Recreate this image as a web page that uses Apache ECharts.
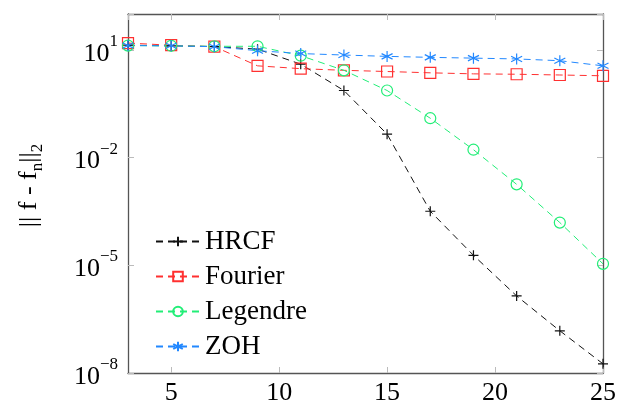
<!DOCTYPE html>
<html>
<head>
<meta charset="utf-8">
<script src="https://cdn.jsdelivr.net/npm/echarts@6/dist/echarts.min.js"></script>
<style>
  html, body { margin: 0; padding: 0; background: #fff; }
  #chart { width: 637px; height: 406px; }
</style>
</head>
<body>
<div id="chart"></div>
<script>
// number of basis functions n
const nValues = [3, 5, 7, 9, 11, 13, 15, 17, 19, 21, 23, 25];

// ||f - f_n||_2
const hrcf     = [13.5, 13, 12.3, 10.5, 4.0, 0.74, 0.045, 3.2e-4, 1.9e-5, 1.4e-6, 1.5e-7, 1.8e-8];
const fourier  = [15.5, 13.5, 12.3, 3.6, 3.0, 2.7, 2.5, 2.3, 2.15, 2.1, 2.0, 1.9];
const legendre = [13.2, 13, 12.6, 12.6, 6.9, 2.7, 0.74, 0.125, 0.0166, 1.8e-3, 1.55e-4, 1.1e-5];
const zoh      = [13.2, 13, 12.3, 9.5, 7.9, 7.2, 6.6, 6.2, 5.9, 5.6, 5.0, 3.6];

const FONT = 'Liberation Serif';
const plus = 'path://M0,5H10M5,0V10';
const star = 'path://M5,0V10M0.67,2.5L9.33,7.5M0.67,7.5L9.33,2.5';

function pairs(ys) {
  return nValues.map((x, i) => [x, ys[i]]);
}

function makeSeries(name, ys, color, symbol, size) {
  return {
    name: name,
    type: 'line',
    data: pairs(ys),
    symbol: symbol,
    symbolSize: size,
    color: color,
    lineStyle: { color: color, width: 1, type: [7, 5] },
    itemStyle: { color: 'rgba(0,0,0,0)', borderColor: color, borderWidth: 1.2 },
    emphasis: { disabled: true },
    z: 3
  };
}

const supLabel = function (v) {
  const e = Math.round(Math.log10(v));
  if (e > 1) return '';
  return '{b|10}{s|' + (e < 0 ? '\u2212' + (-e) : e) + '}';
};

const frame = { show: true, lineStyle: { color: '#555', width: 1.3 } };
const tick = { show: true, inside: true, length: 6, lineStyle: { color: '#bbb' } };

const option = {
  animation: false,
  grid: { left: 128, right: 34, top: 14, bottom: 31 },
  legend: {
    orient: 'vertical',
    left: 150,
    top: 223,
    itemWidth: 44,
    itemHeight: 12,
    itemGap: 8,
    textStyle: { fontFamily: FONT, fontSize: 27, color: '#000' },
    data: ['HRCF', 'Fourier', 'Legendre', 'ZOH']
  },
  xAxis: [{
    type: 'value',
    min: 3, max: 25,
    minInterval: 5, maxInterval: 5,
    axisLine: frame,
    axisTick: tick,
    splitLine: { show: false },
    axisLabel: { showMinLabel: false, fontFamily: FONT, fontSize: 26, color: '#000', margin: 7 }
  }, {
    type: 'value',
    position: 'top',
    min: 3, max: 25,
    minInterval: 5, maxInterval: 5,
    axisLine: frame,
    axisTick: tick,
    splitLine: { show: false },
    axisLabel: { show: false }
  }],
  yAxis: [{
    type: 'log',
    logBase: 10,
    min: 1e-8, max: 100,
    interval: 3,
    axisLine: frame,
    axisTick: tick,
    minorTick: { show: false },
    splitLine: { show: false },
    name: '{t||| f - f}{sub|n}{t|||}{sub|2}',
    nameLocation: 'middle',
    nameGap: 82,
    nameTextStyle: {
      padding: [0, 0, 0, 16],
      rich: {
        t: { fontFamily: FONT, fontSize: 26, color: '#000', lineHeight: 34, verticalAlign: 'middle' },
        sub: { fontFamily: FONT, fontSize: 17, color: '#000', lineHeight: 34, verticalAlign: 'bottom' }
      }
    },
    axisLabel: {
      formatter: supLabel,
      margin: 10,
      rich: {
        b: { fontFamily: FONT, fontSize: 26, color: '#000', lineHeight: 34, verticalAlign: 'bottom' },
        s: { fontFamily: FONT, fontSize: 17, color: '#000', lineHeight: 34, verticalAlign: 'top' }
      }
    }
  }, {
    type: 'log',
    logBase: 10,
    position: 'right',
    min: 1e-8, max: 100,
    interval: 3,
    axisLine: frame,
    axisTick: tick,
    minorTick: { show: false },
    splitLine: { show: false },
    axisLabel: { show: false }
  }],
  series: [
    makeSeries('HRCF', hrcf, '#111', plus, 10),
    makeSeries('Fourier', fourier, '#ff3030', 'rect', 11),
    makeSeries('Legendre', legendre, '#22ee77', 'circle', 11),
    makeSeries('ZOH', zoh, '#2288ff', star, 11)
  ]
};

const chart = echarts.init(document.getElementById('chart'));
chart.setOption(option);
</script>
</body>
</html>
